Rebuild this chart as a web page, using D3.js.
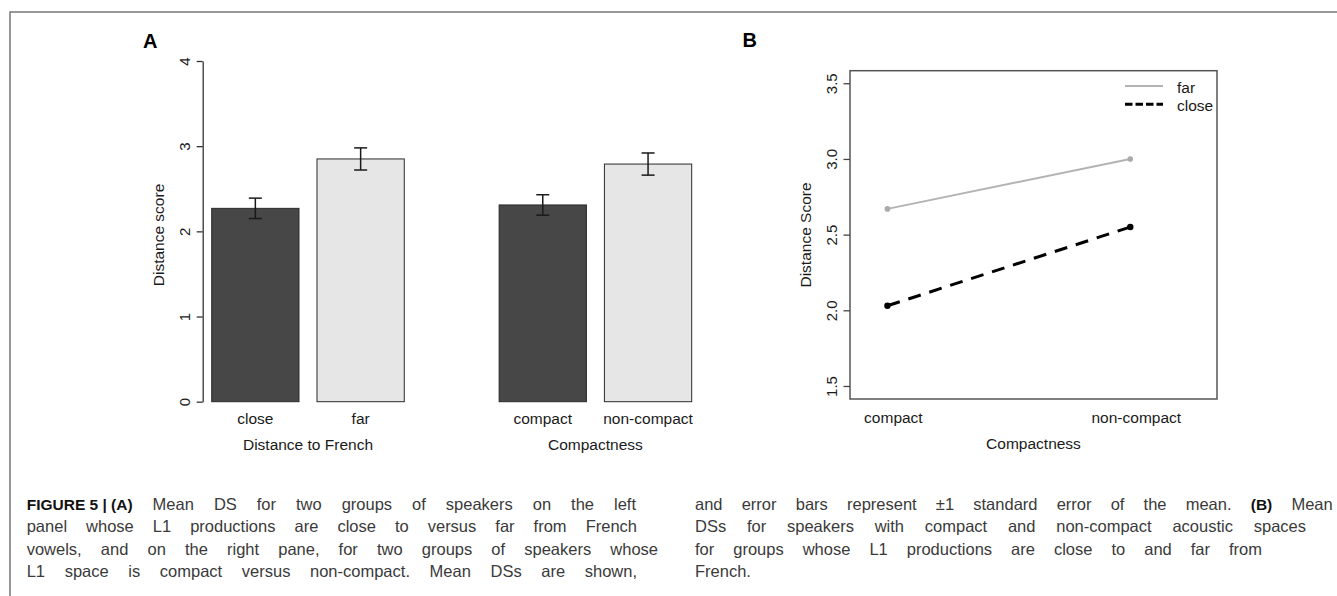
<!DOCTYPE html>
<html>
<head>
<meta charset="utf-8">
<script src="https://cdn.jsdelivr.net/npm/d3@7"></script>
<style>
body { margin: 0; background: #fff; }
svg { display: block; font-family: "Liberation Sans", Arial, Helvetica, sans-serif; }
.tick text { font-size: 15px; font-family: "Liberation Sans", Arial, sans-serif; }
</style>
</head>
<body>
<div id="chart"></div>
<script>
// panel A data: mean distance score with +-1 SE
var barNames = ["close", "far", "compact", "non-compact"];
var barGroups = ["Distance to French", "Distance to French", "Compactness", "Compactness"];
var barMeans = [2.27, 2.85, 2.31, 2.79];
var barErrors = [0.12, 0.13, 0.12, 0.13];
var groupNames = ["Distance to French", "Compactness"];
var yTicksA = [0, 1, 2, 3, 4];

// panel B data: interaction plot
var levelsB = ["compact", "non-compact"];
var farScores = [2.67, 3.00];
var closeScores = [2.03, 2.55];
var yTicksB = [1.5, 2.0, 2.5, 3.0, 3.5];
var legendNames = ["far", "close"];

// caption text, one entry per printed line (* = bold, ~ = fixed space)
var captionLeft = [
  "*FIGURE~5~|~(A) Mean DS for two groups of speakers on the left",
  "panel whose L1 productions are close to versus far from French",
  "vowels, and on the right pane, for two groups of speakers whose",
  "L1 space is compact versus non-compact. Mean DSs are shown,"
];
var captionRight = [
  "and error bars represent ±1 standard error of the mean. *(B) Mean",
  "DSs for speakers with compact and non-compact acoustic spaces",
  "for groups whose L1 productions are close to and far from",
  "French."
];

var svgWidth = 1337;
var svgHeight = 596;

var svg = d3.select("#chart")
  .append("svg")
  .attr("width", svgWidth)
  .attr("height", svgHeight);

// outer figure frame (top and left edges)
svg.append("path")
  .attr("d", "M10,596V12H1337")
  .attr("fill", "none")
  .attr("stroke", "#777")
  .attr("stroke-width", 1.5);

// ================= Panel A =================
var gA = svg.append("g");

gA.append("text")
  .attr("x", 143)
  .attr("y", 48)
  .attr("font-size", 20)
  .attr("font-weight", "bold")
  .text("A");

var yA = d3.scaleLinear().domain([0, 4]).range([401.7, 61]);

var xGroup = d3.scaleBand()
  .domain(groupNames)
  .range([211.7, 691.7])
  .paddingInner(0.33);

var xInner = d3.scaleBand()
  .domain([0, 1])
  .range([0, xGroup.bandwidth()])
  .paddingInner(0.171);

var barFill = d3.scaleOrdinal()
  .domain(barNames)
  .range(["#474747", "#e6e6e6", "#474747", "#e6e6e6"]);

var bars = barNames.map(function(name, i) {
  var idx = barGroups.slice(0, i).filter(function(g) { return g === barGroups[i]; }).length;
  var x0 = xGroup(barGroups[i]) + xInner(idx);
  return { name: name, mean: barMeans[i], se: barErrors[i], x: x0, cx: x0 + xInner.bandwidth() / 2 };
});

gA.selectAll("rect.bar")
  .data(bars)
  .enter()
  .append("rect")
    .attr("class", "bar")
    .attr("x", d => d.x)
    .attr("y", d => yA(d.mean))
    .attr("width", xInner.bandwidth())
    .attr("height", d => yA(0) - yA(d.mean))
    .attr("fill", d => barFill(d.name))
    .attr("stroke", "#2a2a2a")
    .attr("stroke-width", 1);

// error bars
var errG = gA.selectAll("g.err")
  .data(bars)
  .enter()
  .append("g")
    .attr("class", "err")
    .attr("stroke", "#1a1a1a")
    .attr("stroke-width", 1.5);

errG.append("line")
  .attr("x1", d => d.cx).attr("x2", d => d.cx)
  .attr("y1", d => yA(d.mean - d.se)).attr("y2", d => yA(d.mean + d.se));
errG.append("line")
  .attr("x1", d => d.cx - 6.5).attr("x2", d => d.cx + 6.5)
  .attr("y1", d => yA(d.mean + d.se)).attr("y2", d => yA(d.mean + d.se));
errG.append("line")
  .attr("x1", d => d.cx - 6.5).attr("x2", d => d.cx + 6.5)
  .attr("y1", d => yA(d.mean - d.se)).attr("y2", d => yA(d.mean - d.se));

// bar labels
gA.selectAll("text.barlab")
  .data(bars)
  .enter()
  .append("text")
    .attr("class", "barlab")
    .attr("x", d => d.cx)
    .attr("y", 423.5)
    .attr("text-anchor", "middle")
    .attr("font-size", 15.5)
    .attr("fill", "#1a1a1a")
    .text(d => d.name);

// group titles
gA.selectAll("text.grp")
  .data(groupNames)
  .enter()
  .append("text")
    .attr("class", "grp")
    .attr("x", d => xGroup(d) + xGroup.bandwidth() / 2)
    .attr("y", 450)
    .attr("text-anchor", "middle")
    .attr("font-size", 15.5)
    .attr("fill", "#1a1a1a")
    .text(d => d);

// y axis
var axisA = gA.append("g")
  .attr("transform", "translate(202.7,0)")
  .call(d3.axisLeft(yA).tickValues(yTicksA).tickSize(6).tickSizeOuter(0).tickFormat(d3.format("d")));

axisA.selectAll("path, line").attr("stroke", "#333").attr("stroke-width", 1.3);
axisA.selectAll("text")
  .attr("transform", "rotate(-90)")
  .attr("x", 0)
  .attr("y", -12.7)
  .attr("dy", 0)
  .attr("text-anchor", "middle")
  .attr("fill", "#1a1a1a");

gA.append("text")
  .attr("transform", "translate(164,235) rotate(-90)")
  .attr("text-anchor", "middle")
  .attr("font-size", 15.5)
  .attr("fill", "#1a1a1a")
  .text("Distance score");

// ================= Panel B =================
var gB = svg.append("g");

gB.append("text")
  .attr("x", 742.5)
  .attr("y", 47)
  .attr("font-size", 20)
  .attr("font-weight", "bold")
  .text("B");

var xB = d3.scaleLinear().domain([0.846, 2.357]).range([850, 1217]);
var yB = d3.scaleLinear().domain([1.414, 3.583]).range([399, 70.7]);

gB.append("rect")
  .attr("x", xB.range()[0])
  .attr("y", yB.range()[1])
  .attr("width", xB.range()[1] - xB.range()[0])
  .attr("height", yB.range()[0] - yB.range()[1])
  .attr("fill", "none")
  .attr("stroke", "#555")
  .attr("stroke-width", 1.5);

var axisB = gB.append("g")
  .attr("transform", "translate(850,0)")
  .call(d3.axisLeft(yB).tickValues(yTicksB).tickSize(6.5).tickSizeOuter(0).tickFormat(d3.format(".1f")));

axisB.select(".domain").remove();
axisB.selectAll("line").attr("stroke", "#444").attr("stroke-width", 1.3);
axisB.selectAll("text")
  .attr("transform", "rotate(-90)")
  .attr("x", 0)
  .attr("y", -13)
  .attr("dy", 0)
  .attr("text-anchor", "middle")
  .attr("fill", "#1a1a1a");

gB.append("text")
  .attr("transform", "translate(810.5,235) rotate(-90)")
  .attr("text-anchor", "middle")
  .attr("font-size", 15.5)
  .attr("fill", "#1a1a1a")
  .text("Distance Score");

// x labels (no tick marks in the original)
gB.selectAll("text.lev")
  .data(levelsB)
  .enter()
  .append("text")
    .attr("class", "lev")
    .attr("x", (d, i) => xB(i + 1) + 6)
    .attr("y", 423)
    .attr("text-anchor", "middle")
    .attr("font-size", 15.5)
    .attr("fill", "#1a1a1a")
    .text(d => d);

gB.append("text")
  .attr("x", (xB.range()[0] + xB.range()[1]) / 2)
  .attr("y", 448.5)
  .attr("text-anchor", "middle")
  .attr("font-size", 15.5)
  .attr("fill", "#1a1a1a")
  .text("Compactness");

var line = d3.line()
  .x((d, i) => xB(i + 1))
  .y(d => yB(d));

gB.append("path")
  .datum(farScores)
  .attr("d", line)
  .attr("fill", "none")
  .attr("stroke", "#b3b3b3")
  .attr("stroke-width", 2);

gB.append("path")
  .datum(closeScores)
  .attr("d", line)
  .attr("fill", "none")
  .attr("stroke", "#000")
  .attr("stroke-width", 3)
  .attr("stroke-dasharray", "13,9");

gB.selectAll("circle.far")
  .data(farScores)
  .enter()
  .append("circle")
    .attr("class", "far")
    .attr("cx", (d, i) => xB(i + 1))
    .attr("cy", d => yB(d))
    .attr("r", 2.8)
    .attr("fill", "#aaa");

gB.selectAll("circle.close")
  .data(closeScores)
  .enter()
  .append("circle")
    .attr("class", "close")
    .attr("cx", (d, i) => xB(i + 1))
    .attr("cy", d => yB(d))
    .attr("r", 3.2)
    .attr("fill", "#000");

// legend
var legend = gB.selectAll("g.leg")
  .data(legendNames)
  .enter()
  .append("g")
    .attr("class", "leg")
    .attr("transform", (d, i) => "translate(1125," + (86 + i * 18.3) + ")");

legend.append("line")
  .attr("x1", 0).attr("x2", 38)
  .attr("stroke", (d, i) => i === 0 ? "#b3b3b3" : "#000")
  .attr("stroke-width", (d, i) => i === 0 ? 2 : 3)
  .attr("stroke-dasharray", (d, i) => i === 0 ? null : "7.5,3");

legend.append("text")
  .attr("x", 52)
  .attr("y", 6.5)
  .attr("font-size", 15.5)
  .attr("fill", "#1a1a1a")
  .text(d => d);

// ================= Caption =================
var capG = svg.append("g");

function setLine(str, x0, x1, y, justify) {
  var tokens = str.split(" ");
  var nodes = tokens.map(function(t) {
    var bold = t[0] === "*";
    var s = (bold ? t.slice(1) : t).replace(/~/g, " ");
    return capG.append("text")
      .attr("y", y)
      .attr("font-size", bold ? 15.5 : 16.5)
      .attr("font-weight", bold ? "bold" : "normal")
      .attr("fill", bold ? "#111" : "#3a3a3a")
      .text(s);
  });
  var widths = nodes.map(n => n.node().getComputedTextLength());
  var total = d3.sum(widths);
  var gap = (justify && tokens.length > 1) ? (x1 - x0 - total) / (tokens.length - 1) : 4.6;
  var x = x0;
  nodes.forEach(function(n, i) {
    n.attr("x", x);
    x += widths[i] + gap;
  });
}

var capY = [509.5, 532, 554.5, 577];
var leftEnds = [636, 637, 658, 637];
var rightEnds = [1332.7, 1306, 1262, 0];

captionLeft.forEach(function(s, i) { setLine(s, 26.7, leftEnds[i], capY[i], true); });
captionRight.forEach(function(s, i) { setLine(s, 695, rightEnds[i], capY[i], i < 3); });
</script>
</body>
</html>
